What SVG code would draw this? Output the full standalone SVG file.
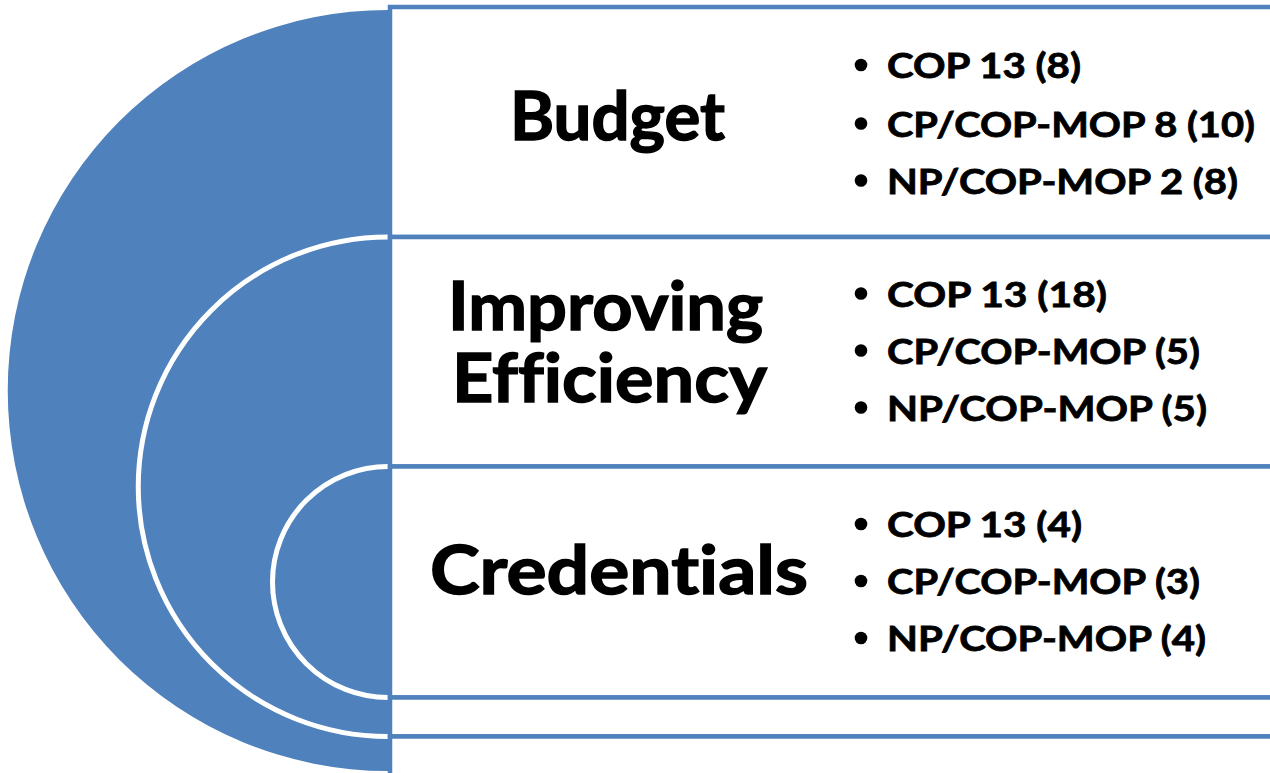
<svg xmlns="http://www.w3.org/2000/svg" width="1270" height="773" viewBox="0 0 1270 773">
<style>
.box{fill:#ffffff;stroke:#4F81BD;stroke-width:4.5}
.arc{fill:none;stroke:#ffffff;stroke-width:5}
.title{font-family:Lato,"Open Sans","Liberation Sans",sans-serif;font-weight:700;font-size:66px;fill:#000;stroke:#000;stroke-width:1.4;font-variant-ligatures:none;font-feature-settings:"liga" 0}
.item{font-family:Lato,"Open Sans","Liberation Sans",sans-serif;font-weight:700;font-size:35px;fill:#000;stroke:#000;stroke-width:0.8;font-variant-ligatures:none;font-feature-settings:"liga" 0}
.dot{fill:#000}
</style>
<rect width="1270" height="773" fill="#ffffff"/>
<g id="disc">
<path d="M388,10 A380,380 0 0 0 388,771 Z" fill="#4F81BD"/>
</g>
<g id="connectors">
<path class="arc" d="M388,237 A249.75,249.75 0 0 0 388,736.5"/>
<path class="arc" d="M388,466.5 A115.5,115.5 0 0 0 388,697.5"/>
</g>
<g id="budget">
<rect class="box" x="390" y="7" width="900" height="230"/>
<text class="title" x="510" y="140" textLength="215" lengthAdjust="spacingAndGlyphs">Budget</text>
<circle class="dot" cx="861" cy="65" r="6.3"/>
<text class="item" x="887" y="78" textLength="194" lengthAdjust="spacingAndGlyphs">COP 13 (8)</text>
<circle class="dot" cx="861" cy="123.5" r="6.3"/>
<text class="item" x="887" y="136.5" textLength="368" lengthAdjust="spacingAndGlyphs">CP/COP-MOP 8 (10)</text>
<circle class="dot" cx="861" cy="180.5" r="6.3"/>
<text class="item" x="887" y="193.5" textLength="351" lengthAdjust="spacingAndGlyphs">NP/COP-MOP 2 (8)</text>
</g>
<g id="efficiency">
<rect class="box" x="390" y="237" width="900" height="229.5"/>
<text class="title" x="448" y="330" textLength="315" lengthAdjust="spacingAndGlyphs">Improving</text>
<text class="title" x="452" y="402" textLength="315" lengthAdjust="spacingAndGlyphs">Efficiency</text>
<circle class="dot" cx="861" cy="293.5" r="6.3"/>
<text class="item" x="887" y="306.5" textLength="220" lengthAdjust="spacingAndGlyphs">COP 13 (18)</text>
<circle class="dot" cx="861" cy="350.5" r="6.3"/>
<text class="item" x="887" y="363.5" textLength="313" lengthAdjust="spacingAndGlyphs">CP/COP-MOP (5)</text>
<circle class="dot" cx="861" cy="407.5" r="6.3"/>
<text class="item" x="887" y="420.5" textLength="320" lengthAdjust="spacingAndGlyphs">NP/COP-MOP (5)</text>
</g>
<g id="credentials">
<rect class="box" x="390" y="466.5" width="900" height="231"/>
<text class="title" x="430" y="594" textLength="378" lengthAdjust="spacingAndGlyphs">Credentials</text>
<circle class="dot" cx="861" cy="524" r="6.3"/>
<text class="item" x="887" y="537" textLength="195" lengthAdjust="spacingAndGlyphs">COP 13 (4)</text>
<circle class="dot" cx="861" cy="581" r="6.3"/>
<text class="item" x="887" y="594" textLength="313" lengthAdjust="spacingAndGlyphs">CP/COP-MOP (3)</text>
<circle class="dot" cx="861" cy="638" r="6.3"/>
<text class="item" x="887" y="651" textLength="319" lengthAdjust="spacingAndGlyphs">NP/COP-MOP (4)</text>
</g>
<g id="empty1">
<rect class="box" x="390" y="697.5" width="900" height="39"/>
</g>
<g id="empty2">
<rect class="box" x="390" y="736.5" width="900" height="39"/>
</g>
</svg>
